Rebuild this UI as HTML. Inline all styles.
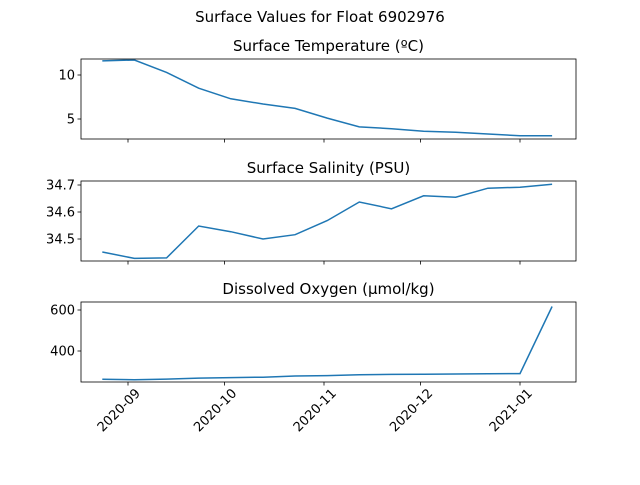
<!DOCTYPE html>
<html><head><meta charset="utf-8"><style>
body{margin:0;background:#fff;}
svg{font-family:"DejaVu Sans","Liberation Sans",sans-serif;}
</style></head><body>
<svg id="c" width="640" height="480" xmlns="http://www.w3.org/2000/svg">
<text x="320" y="22" font-size="15" text-anchor="middle">Surface Values for Float 6902976</text>
</svg>
<script>
const dayOffsets=[-8,2,12,22,32,42,52,62,72,82,92,102,112,122,132];
const temperature=[11.6,11.7,10.3,8.5,7.3,6.7,6.2,5.1,4.1,3.9,3.6,3.5,3.3,3.1,3.1];
const salinity=[34.452,34.428,34.430,34.548,34.527,34.500,34.516,34.568,34.637,34.612,34.660,34.655,34.688,34.692,34.703];
const oxygen=[262,260,263,268,270,272,278,280,284,286,287,288,289,290,617];
const xTickLabels=["2020-09","2020-10","2020-11","2020-12","2021-01"];
const xTickDays=[0,30,61,91,122];
const panelTitles=["Surface Temperature (ºC)","Surface Salinity (PSU)","Dissolved Oxygen (µmol/kg)"];
const tempTicks=[5,10];
const salTicks=[34.5,34.6,34.7];
const oxyTicks=[400,600];

const svg=document.getElementById('c');
const NS="http://www.w3.org/2000/svg";
function mk(t,a,p){const e=document.createElementNS(NS,t);for(const k in a)e.setAttribute(k,a[k]);(p||svg).appendChild(e);return e;}
const L=81,R=576;
function xS(d){return 128+d*(392/122);}
const panels=[
 {top:59,bot:139,data:temperature,ticks:tempTicks,v0:5,y0:119,v1:10,y1:75,fmt:v=>String(v),name:'temperature'},
 {top:181,bot:261,data:salinity,ticks:salTicks,v0:34.5,y0:239,v1:34.7,y1:185,fmt:v=>v.toFixed(1),name:'salinity'},
 {top:302,bot:382,data:oxygen,ticks:oxyTicks,v0:400,y0:351,v1:600,y1:310,fmt:v=>String(v),name:'oxygen'}
];
panels.forEach((p,i)=>{
 const g=mk('g',{});
 
 
 const yS=v=>p.y0+(v-p.v0)*(p.y1-p.y0)/(p.v1-p.v0);
 const t=mk('text',{x:(L+R)/2,y:p.top-8,'font-size':15,'text-anchor':'middle'},g);
 t.textContent=panelTitles[i];
 
 
 const pts=p.data.map((v,j)=>xS(dayOffsets[j]).toFixed(1)+','+yS(v).toFixed(1)).join(' ');
 const line=mk('polyline',{points:pts,fill:'none',stroke:'#1f77b4','stroke-width':1.5},g);
 
 
 const fr=mk('rect',{x:L,y:p.top,width:R-L,height:p.bot-p.top,fill:'none',stroke:'#000','stroke-width':0.8},g);
 
 
 p.ticks.forEach(v=>{
  const y=yS(v);
  mk('line',{x1:L-3.5,x2:L,y1:y,y2:y,stroke:'#000','stroke-width':0.8},g);
  const tl=mk('text',{x:L-6,y:y+4.5,'font-size':13,'text-anchor':'end'},g);
  tl.textContent=p.fmt(v);
  
  
 });
 xTickDays.forEach((d,k)=>{
  const x=xS(d);
  mk('line',{x1:x,x2:x,y1:p.bot,y2:p.bot+3.5,stroke:'#000','stroke-width':0.8},g);
  if(i===2){
   const ax=x+13, ay=p.bot+12;
   const xl=mk('text',{x:ax,y:ay,'font-size':13,'text-anchor':'end',transform:`rotate(-45 ${ax} ${ay})`},g);
   xl.textContent=xTickLabels[k];
   
   
  }
 });
});
</script>
</body></html>
